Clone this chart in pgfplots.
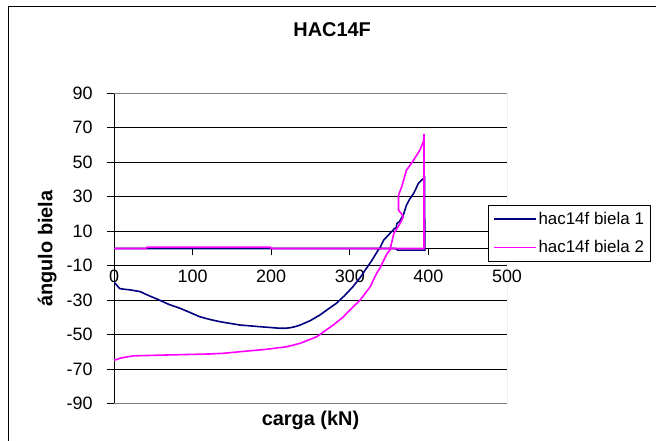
\documentclass[border=0pt]{standalone}
\usepackage{fontspec}
\setmainfont{Liberation Sans}
\usepackage{pgfplots}
\pgfplotsset{compat=1.18}
\definecolor{bielaA}{RGB}{0,0,128}
\definecolor{bielaB}{RGB}{255,0,255}

\begin{document}
\begin{tikzpicture}[x=1bp,y=1bp]
\clip (0,0) rectangle (656,-441);
\draw[black, line width=1bp] (8,-7) rectangle (700,-500);
\begin{axis}[
    at={(114bp,-403.6bp)}, anchor=south west,
    scale only axis, width=393bp, height=310.3bp,
    xmin=0, xmax=500, ymin=-90, ymax=90,
    axis x line=middle, axis y line=left,
    axis line style={-, black, line width=0.9bp},
    xtick={0,100,...,500}, ytick={-90,-70,...,90},
    xtick align=outside, ytick align=outside,
    major tick length=7bp,
    tick style={black, line width=0.9bp},
    hide obscured x ticks=false,
    ymajorgrids, grid style={black, line width=0.7bp},
    /pgf/number format/assume math mode=true,
    tick label style={font=\fontsize{18}{21}\selectfont},
    xticklabel style={yshift=-11bp},
    yticklabel style={xshift=-11bp},
    title={\textbf{HAC14F}},
    title style={at={(axis description cs:0.555,1.185)}, anchor=center, font=\fontsize{20}{24}\selectfont},
    xlabel={\textbf{carga (kN)}},
    xlabel style={at={(axis description cs:0.5,-0.053)}, anchor=center, font=\fontsize{20}{24}\selectfont},
    ylabel={\textbf{ángulo biela}},
    ylabel style={at={(axis description cs:-0.17,0.5)}, anchor=center, rotate=0, font=\fontsize{20}{24}\selectfont},
    legend cell align=left,
    legend style={at={(axis description cs:0.952,0.640)}, anchor=north west,
        draw=black, line width=0.75bp, font=\fontsize{17}{20}\selectfont,
        inner xsep=5bp, inner ysep=5bp, row sep=12bp, nodes={inner sep=1.5bp}},
    legend image code/.code={\draw[#1, line width=1.5bp] (0bp,0bp) -- (42bp,0bp);},
    no markers,
]
\addplot[bielaA, line width=1.6bp] coordinates {
    (0,-19.5) (3,-21) (7,-23.2) (10,-23.5) (20,-24) (33,-25) (45,-27.5)
    (58,-30) (70,-32.5) (84,-34.7) (97,-37.2) (109,-39.6) (122,-41.2)
    (135,-42.5) (148,-43.5) (160,-44.4) (173,-44.9) (186,-45.4) (200,-45.9)
    (211,-46.3) (218,-46.3) (224,-46) (231,-45.3) (237,-44.4) (250,-41.8)
    (262,-38.6) (272,-35.3) (283,-31.8) (293,-27.5) (304,-22.2) (313,-17)
    (321,-11.6) (328,-7) (336,-1) (338,0) (343,4.8) (351,8.7) (357,11.6)
    (359,12) (360,14.5) (363,15.5) (368,19.3) (372,25) (376,28.5) (381,31.8)
    (384,34.5) (387,37.6) (391,39.5) (395,41) (395.5,-1) (361,-1) (358,0) (0,0)
};
\addlegendentry{hac14f biela 1}
\addplot[bielaB, line width=1.6bp] coordinates {
    (0,-64.7) (3,-64.5) (7.6,-63.7) (15,-63) (25,-62.3) (67,-61.8) (122,-61.2)
    (140,-60.8) (160,-59.9) (194,-58.5) (220,-57) (237,-55) (258,-51.2)
    (270,-47.3) (279,-44.4) (292,-39.6) (296,-37.6) (313,-30) (326,-22.2)
    (334,-14.5) (338,-11.6) (347.5,-2.9) (351,-1) (356,8.7) (364,14.5)
    (368,18.3) (366,20) (362,22.2) (362,30.9) (366,35.7) (372,45.3)
    (381,51.1) (389,56.9) (394,62.5) (394.4,66.5) (394.4,0) (200,0)
    (199,0.8) (42,0.8) (41,0) (0,0)
};
\addlegendentry{hac14f biela 2}
\draw[gray, line width=1bp] (rel axis cs:0,1) -- (rel axis cs:1,1)
    -- (rel axis cs:1,0) -- (rel axis cs:0,0);
\end{axis}
\end{tikzpicture}
\end{document}
